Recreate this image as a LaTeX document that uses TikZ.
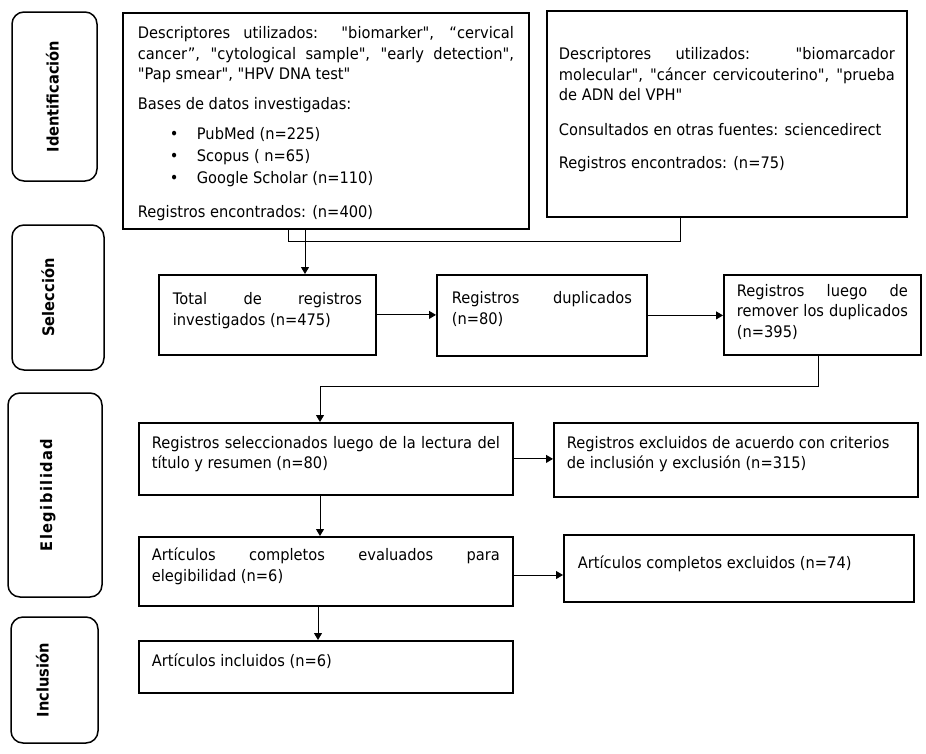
\documentclass[tikz,border=0pt]{standalone}
\usepackage{fontspec}
\setmainfont{DejaVu Sans}[FakeStretch=0.92, Ligatures=TeXOff]
\usepackage{graphicx}
\usetikzlibrary{arrows.meta}
\newcommand\fs{\fontsize{15.9}{20.5}\selectfont}
\newcommand\jl[1]{\sbox0{#1}\ifdim\wd0>\linewidth\resizebox{\linewidth}{\height}{#1}\else\makebox[\linewidth][s]{#1}\fi}
\newcommand\bt[4]{\parbox[c][#1][t]{#2}{\fs\vspace*{#3}\strut#4}}
\newcommand\bul{\hspace*{32pt}\makebox[27pt][l]{•}}
\begin{document}
\begin{tikzpicture}[x=1pt,y=-1pt,
  box/.style={draw, line width=1.8pt, anchor=north west, inner ysep=0pt},
  side/.style={draw, rounded corners=12pt, line width=1.5pt, rotate=90, font=\fs\bfseries, inner sep=0pt, text height=11pt, text depth=3pt},
  conn/.style={line width=1pt},
  arr/.style={conn, -{Triangle[length=7pt,width=8pt]}}]
\fill[white] (0,0) rectangle (926,753);
\useasboundingbox (0,0) rectangle (926,753);
% side labels
\node[side, minimum width=169pt, minimum height=85pt] (s1) at (54.5,96.5) {Identificación};
\node[side, minimum width=145pt, minimum height=92pt] (s2) at (58,297.5) {\raisebox{8pt}{Selección}};
\node[side, minimum width=204pt, minimum height=94pt] (s3) at (55,495) {\raisebox{7pt}{\addfontfeature{LetterSpace=9}Elegibilidad}};
\node[side, minimum width=126pt, minimum height=87pt] (s4) at (54.5,680) {\raisebox{10pt}{Inclusión}};
% identification boxes
\node[box, inner xsep=15pt] (ida) at (122,12) {\bt{216pt}{376pt}{11.65pt}{%
\jl{Descriptores utilizados: "biomarker", “cervical}\\
\jl{cancer”, "cytological sample", "early detection",}\\
"Pap smear", "HPV DNA test"\\[9pt]
Bases de datos investigadas:\\[9.5pt]
\bul PubMed (n=225)\\[1.5pt]
\bul Scopus ( n=65)\\[1.5pt]
\bul Google Scholar (n=110)\\[13.5pt]
Registros encontrados: (n=400)}};
\node[box, inner xsep=12pt] (idb) at (546,10) {\bt{206pt}{336pt}{34.65pt}{%
\jl{Descriptores utilizados: "biomarcador}\\
\jl{molecular", "cáncer cervicouterino", "prueba}\\
de ADN del VPH"\\[14.5pt]
Consultados en otras fuentes: sciencedirect\\[12.5pt]
Registros encontrados: (n=75)}};
% selection row
\node[box, inner xsep=14pt] (tot) at (158,274) {\bt{80pt}{189pt}{15.65pt}{%
\jl{Total de registros}\\
investigados (n=475)}};
\node[box, inner xsep=15pt] (dup) at (436,274) {\bt{81pt}{180pt}{14.65pt}{%
\jl{Registros duplicados}\\
(n=80)}};
\node[box, inner xsep=13pt] (lue) at (723,274) {\bt{80pt}{171pt}{7.15pt}{%
\jl{Registros luego de}\\
\jl{remover los duplicados}\\
(n=395)}};
% eligibility
\node[box, inner xsep=13pt] (sel) at (138,422) {\bt{72pt}{348pt}{11.15pt}{%
\jl{Registros seleccionados luego de la lectura del}\\
título y resumen (n=80)}};
\node[box, inner xsep=13pt] (exc) at (553,422) {\bt{74pt}{338pt}{11.15pt}{%
Registros excluidos de acuerdo con criterios\\
de inclusión y exclusión (n=315)}};
\node[box, inner xsep=13pt] (art) at (138,536) {\bt{69pt}{348pt}{9.65pt}{%
\jl{Artículos completos evaluados para}\\
elegibilidad (n=6)}};
\node[box, inner xsep=14pt] (arx) at (563,534) {\bt{67pt}{322pt}{19.65pt}{%
Artículos completos excluidos (n=74)}};
% inclusion
\node[box, inner xsep=13pt] (inc) at (138,640) {\bt{52pt}{348pt}{11.65pt}{%
Artículos incluidos (n=6)}};
% connectors
\coordinate (j1) at (288,241);
\coordinate (j2) at (680,241);
\coordinate (a1) at (305,0);
\coordinate (j3) at (818,386);
\coordinate (j4) at (320,386);
\coordinate (y5) at (0,575);
\coordinate (a9) at (318,0);
\draw[conn] (ida.south -| j1) -- (j1) -- (j2) -- (idb.south -| j2);
\draw[arr] (ida.south -| a1) -- (tot.north -| a1);
\draw[arr] (tot.east) -- (dup.west |- tot.east);
\draw[arr] (dup.east) -- (lue.west |- dup.east);
\draw[arr] (lue.south -| j3) -- (j3) -- (j4) -- (sel.north -| j4);
\draw[arr] (sel.east) -- (exc.west |- sel.east);
\draw[arr] (sel.south -| j4) -- (art.north -| j4);
\draw[arr] (art.east |- y5) -- (arx.west |- y5);
\draw[arr] (art.south -| a9) -- (inc.north -| a9);
\end{tikzpicture}
\end{document}
